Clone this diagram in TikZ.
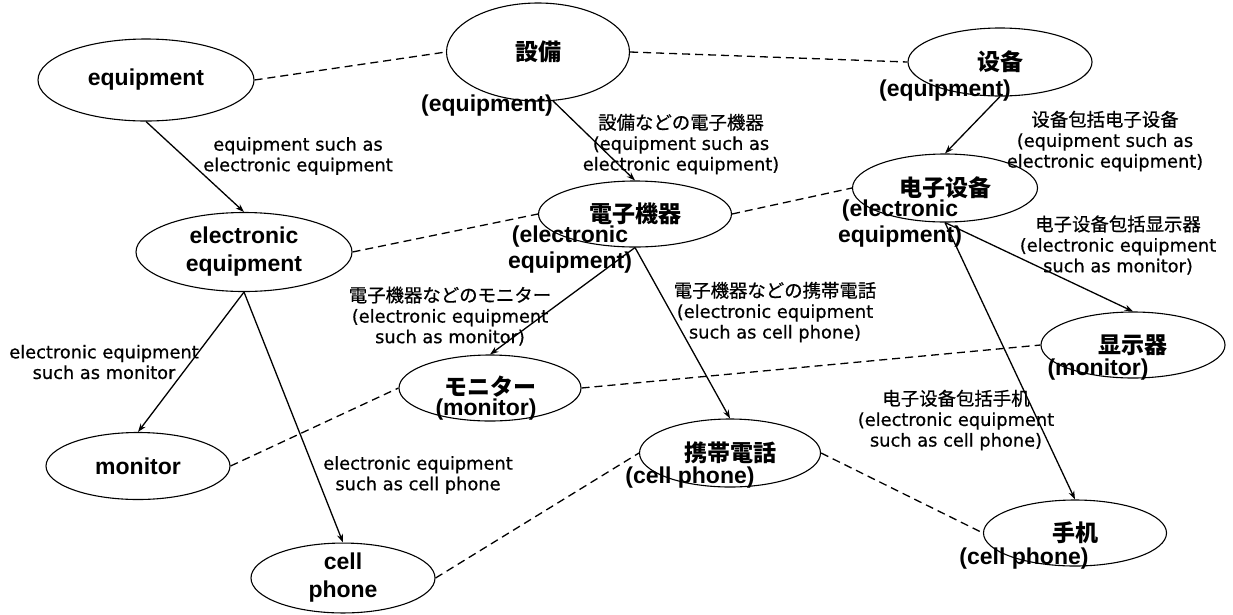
\documentclass[tikz,border=0pt]{standalone}
\usepackage{fontspec}
\setmainfont{Liberation Sans}
\newfontfamily\jpf{Noto Sans CJK JP}
\newfontfamily\scf{Noto Sans CJK SC}
\newfontfamily\jpl{Noto Sans CJK JP}[FakeBold=0.6]
\newfontfamily\scl{Noto Sans CJK SC}[FakeBold=0.6]
\newfontfamily\lblf{DejaVu Sans}[FakeBold=0.7]
\usetikzlibrary{shapes.geometric,arrows.meta}
\tikzset{
  ell/.style={ellipse, draw, line width=1.1pt, inner sep=0pt, align=center,
    font=\fontsize{23}{28}\selectfont\bfseries},
  sub/.style={inner sep=0pt, align=center, font=\fontsize{23}{26}\selectfont\bfseries},
  lab/.style={inner sep=0pt, align=center, font=\lblf\fontsize{17.8}{20.6}\selectfont},
  arr/.style={line width=1.3pt, -{Stealth[length=8.5pt,width=6pt]}},
  eqv/.style={line width=1.3pt, dash pattern=on 8pt off 5pt},
}
\begin{document}
\begin{tikzpicture}[x=1pt,y=-1pt]
\useasboundingbox (0,0) rectangle (1233,614);
% English
\node[ell, minimum width=216pt, minimum height=82pt] (en1) at (146,80) {equipment};
\node[ell, minimum width=216pt, minimum height=79pt] (en2) at (244,252) {electronic\\equipment};
\node[ell, minimum width=184pt, minimum height=67pt] (en3) at (138,466) {monitor};
\node[ell, minimum width=184pt, minimum height=69pt] (en4) at (343,578) {cell\\phone};
% Japanese
\node[ell, minimum width=183pt, minimum height=98pt] (ja1) at (538,52) {\jpf 設備};
\node[ell, minimum width=193pt, minimum height=66pt] (ja2) at (635,214) {\jpf 電子機器};
\node[ell, minimum width=182pt, minimum height=66pt] (ja3) at (490,388) {\raisebox{4pt}{\jpf モニター}};
\node[ell, minimum width=181pt, minimum height=68pt] (ja4) at (730,453) {\jpf 携帯電話};
% Chinese
\node[ell, minimum width=184pt, minimum height=68pt] (zh1) at (1000,62) {\scf 设备};
\node[ell, minimum width=185pt, minimum height=68pt] (zh2) at (945,188) {\scf 电子设备};
\node[ell, minimum width=184pt, minimum height=66pt] (zh3) at (1133,345) {\scf 显示器};
\node[ell, minimum width=183pt, minimum height=66pt] (zh4) at (1075,533) {\scf 手机};
% sub texts
\node[sub] (ja1s) at (487,106) {(equipment)};
\node[sub] (ja2s) at (570,250) {(electronic\\equipment)};
\node[sub] (ja3s) at (486,410) {(monitor)};
\node[sub] (ja4s) at (690,478) {(cell phone)};
\node[sub] (zh1s) at (945,91) {(equipment)};
\node[sub] (zh2s) at (900,224) {(electronic\\equipment)};
\node[sub] (zh3s) at (1098,370) {(monitor)};
\node[sub] (zh4s) at (1024,559) {(cell phone)};
% arrows
\draw[arr] (en1.south) -- (en2.north);
\draw[arr] (en2.south) -- (en3.north);
\draw[arr] (en2.south) -- (en4.north);
\draw[arr] (ja1.-73) -- (ja2.north);
\draw[arr] (ja2.south) -- (ja3.north);
\draw[arr] (ja2.south) -- (ja4.north);
\draw[arr] (zh1.south) -- (zh2.north);
\draw[arr] (zh2.south) -- (zh3.north);
\draw[arr] (zh2.south) -- (zh4.north);
% equivalences
\draw[eqv] (en1.east) -- (ja1.west);
\draw[eqv] (ja1.east) -- (zh1.west);
\draw[eqv] (en2.east) -- (ja2.west);
\draw[eqv] (ja2.east) -- (zh2.west);
\draw[eqv] (en3.east) -- (ja3.west);
\draw[eqv] (ja3.east) -- (zh3.west);
\draw[eqv] (en4.east) -- (ja4.west);
\draw[eqv] (ja4.east) -- (zh4.west);
% labels
\node[lab] (l1) at (298,156) {equipment such as\\electronic equipment};
\node[lab] (l2) at (104,362) {electronic equipment\\such as monitor};
\node[lab] (l3) at (418,475) {electronic equipment\\such as cell phone};
\node[lab] (l4) at (681,144) {{\jpl\fontsize{18.4}{20.6}\selectfont 設備などの電子機器}\\(equipment such as\\electronic equipment)};
\node[lab] (l5) at (1105,141) {{\scl\fontsize{18.4}{20.6}\selectfont 设备包括电子设备}\\(equipment such as\\electronic equipment)};
\node[lab] (l6) at (1118,245) {{\scl\fontsize{18.4}{20.6}\selectfont 电子设备包括显示器}\\(electronic equipment\\such as monitor)};
\node[lab] (l7) at (450,316) {{\jpl\fontsize{18.4}{20.6}\selectfont 電子機器などのモニター}\\(electronic equipment\\such as monitor)};
\node[lab] (l8) at (775,312) {{\jpl\fontsize{18.4}{20.6}\selectfont 電子機器などの携帯電話}\\(electronic equipment\\such as cell phone)};
\node[lab] (l9) at (956,420) {{\scl\fontsize{18.4}{20.6}\selectfont 电子设备包括手机}\\(electronic equipment\\such as cell phone)};
\end{tikzpicture}
\end{document}
